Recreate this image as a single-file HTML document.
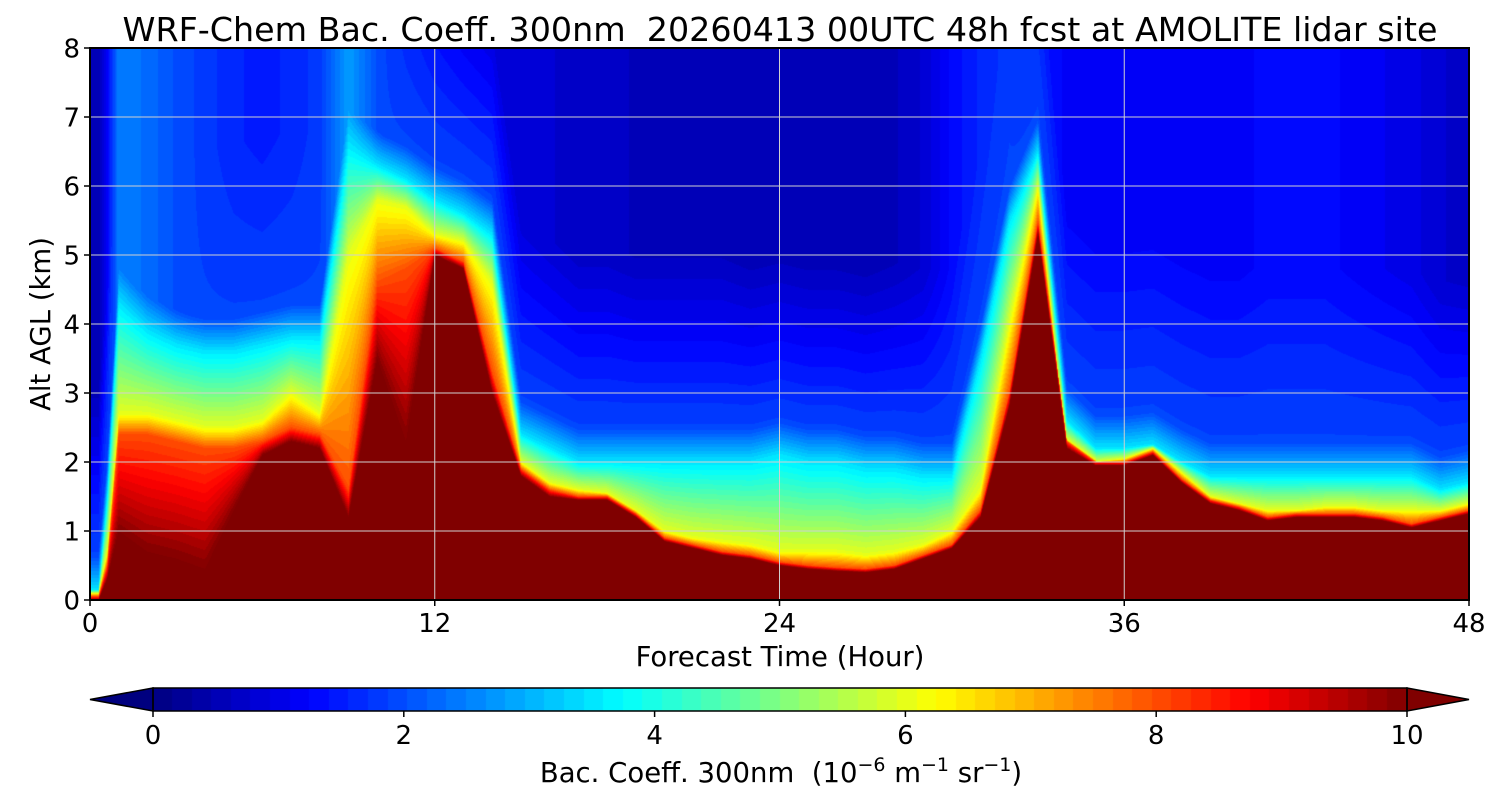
<!DOCTYPE html>
<html><head><meta charset="utf-8">
<style>
html,body{margin:0;padding:0;background:#fff;}
#wrap{position:relative;width:1500px;height:800px;overflow:hidden;font-family:"DejaVu Sans","Liberation Sans",sans-serif;}
canvas{position:absolute;}
svg{position:absolute;left:0;top:0;}
text{white-space:pre;}
</style></head>
<body>
<div id="wrap">
<canvas id="field" width="1379" height="552" style="left:90px;top:48px"></canvas>
<canvas id="cbar" width="1254" height="23" style="left:153px;top:688px"></canvas>
<svg id="ov" width="1500" height="800">
<text x="780" y="41" font-size="33.3" text-anchor="middle" xml:space="preserve">WRF-Chem Bac. Coeff. 300nm  20260413 00UTC 48h fcst at AMOLITE lidar site</text>
<text x="780" y="666" font-size="27.5" text-anchor="middle">Forecast Time (Hour)</text>
<text transform="translate(50,324) rotate(-90)" font-size="27.5" text-anchor="middle">Alt AGL (km)</text>
<text x="781" y="782" font-size="27.5" text-anchor="middle" xml:space="preserve">Bac. Coeff. 300nm  (10<tspan dy="-11" font-size="19">−6</tspan><tspan dy="11"> m</tspan><tspan dy="-11" font-size="19">−1</tspan><tspan dy="11"> sr</tspan><tspan dy="-11" font-size="19">−1</tspan><tspan dy="11">)</tspan></text>
<g id="grid"></g><g id="ticks"></g>
<rect x="90" y="48" width="1379" height="552" fill="none" stroke="#000" stroke-width="2"/>
<polygon points="153,688 90,699.5 153,711" fill="#00007f" stroke="#000" stroke-width="1.5"/>
<polygon points="1407,688 1469,699.5 1407,711" fill="#800000" stroke="#000" stroke-width="1.5"/>
<rect x="153" y="688" width="1254" height="23" fill="none" stroke="#000" stroke-width="1.5"/>
</svg>
</div>
<script>
const hours=[0,0.3,0.6,1,2,3,4,5,6,7,8,9,10,11,12,13,14,15,16,17,18,19,20,21,22,23,24,25,26,27,28,29,30,31,32,33,34,35,36,37,38,39,40,41,42,43,44,45,46,47,48];
const topKm=[0,0,0.3,1.0,0.7,0.6,0.45,1.3,2.1,2.3,2.2,1.2,3.5,2.3,5.0,4.8,3.0,1.8,1.5,1.45,1.45,1.2,0.85,0.75,0.65,0.6,0.5,0.45,0.42,0.4,0.45,0.6,0.75,1.2,2.8,5.3,2.2,1.95,1.95,2.1,1.7,1.4,1.3,1.15,1.2,1.2,1.2,1.15,1.05,1.15,1.25];
const orangeKm=[0.05,0.05,0.5,2.4,2.4,2.3,2.2,2.2,2.3,2.5,2.4,1.6,4.6,4.8,5.1,4.9,3.3,1.9,1.6,1.5,1.5,1.25,0.9,0.8,0.7,0.65,0.55,0.5,0.47,0.45,0.5,0.65,0.8,1.3,3.0,5.5,2.3,2.0,2.0,2.15,1.75,1.45,1.35,1.2,1.25,1.25,1.25,1.2,1.1,1.2,1.3];
const yellowKm=[0.1,0.1,0.7,2.7,2.7,2.6,2.5,2.5,2.6,3.0,2.7,5.0,5.8,5.7,5.3,5.2,4.6,2.0,1.7,1.6,1.55,1.3,1.0,0.9,0.85,0.8,0.7,0.7,0.7,0.65,0.7,0.8,1.0,1.6,4.0,6.0,2.1,2.0,2.05,2.2,1.85,1.5,1.4,1.3,1.3,1.35,1.35,1.3,1.3,1.3,1.4];
const cyanKm=[0.15,0.15,1.5,4.3,3.9,3.7,3.6,3.6,3.7,3.8,3.8,6.6,6.3,6.1,5.8,5.6,5.3,2.4,2.2,2.0,2.0,2.0,2.0,2.0,2.0,2.0,2.1,2.0,2.0,1.9,1.9,1.8,1.8,3.5,5.5,6.5,2.6,2.2,2.2,2.25,2.0,1.8,1.8,1.8,1.8,1.8,1.8,1.8,1.8,1.6,1.7];
const upperVal=[0.5,0.5,1.2,2.5,2.3,2.0,1.8,1.6,1.5,1.6,1.8,2.8,2.0,1.5,1.2,1.0,0.9,0.9,0.8,0.7,0.7,0.6,0.6,0.6,0.6,0.5,0.5,0.5,0.5,0.5,0.6,0.8,1.3,1.6,1.8,1.5,1.2,1.2,1.2,1.2,1.2,1.2,1.2,1.3,1.3,1.3,1.2,1.1,1.0,0.8,0.7];
const xTicks=[0,12,24,36,48];
const yTicks=[0,1,2,3,4,5,6,7,8];
const cbTicks=[0,2,4,6,8,10];

const X0=90,X1=1469,Y0=600,Y1=48;
const xs=t=>X0+(t/48)*(X1-X0);
const ys=z=>Y0-(z/8)*(Y0-Y1);
function jet(x){const c=v=>Math.max(0,Math.min(1,v));return [c(1.5-Math.abs(4*x-3)),c(1.5-Math.abs(4*x-2)),c(1.5-Math.abs(4*x-1))].map(v=>Math.round(v*255));}
function lerpArr(a,t){let i=0;while(i<hours.length-2&&hours[i+1]<t)i++;const f=Math.max(0,Math.min(1,(t-hours[i])/(hours[i+1]-hours[i])));return a[i]*(1-f)+a[i+1]*f;}
function field(t,z){
  const tp=lerpArr(topKm,t);let or=lerpArr(orangeKm,t);let md=lerpArr(yellowKm,t);let cy=lerpArr(cyanKm,t);const up=lerpArr(upperVal,t);
  if(or<=tp)or=tp+0.03; if(md<=or)md=or+0.03; if(cy<=md)cy=md+0.05;
  if(z<=tp)return 10;
  if(z<=or)return 10-2*(z-tp)/(or-tp);
  if(z<=md)return 8-2*(z-or)/(md-or);
  if(z<=cy)return 6-2.5*(z-md)/(cy-md);
  const mid=Math.max(1.9,up);
  if(z<=cy+0.5)return 3.5+(mid-3.5)*(z-cy)/0.5;
  if(z<=cy+3)return mid+(up-mid)*(z-cy-0.5)/2.5;
  return up;
}
const STEP=10/64;
function levelColor(v){if(v>=10)return [128,0,0];let l=Math.floor(v/STEP)*STEP;const x=Math.min(1,(l+STEP/2)/10);return jet(x);}
const fc=document.getElementById('field').getContext('2d');
const W=1379,H=552;const img=fc.createImageData(W,H);
for(let px=0;px<W;px++){const t=(px+0.5)/W*48;
  for(let py=0;py<H;py++){const z=(H-py-0.5)/H*8;const c=levelColor(field(t,z));const k=(py*W+px)*4;
    img.data[k]=c[0];img.data[k+1]=c[1];img.data[k+2]=c[2];img.data[k+3]=255;}}
fc.putImageData(img,0,0);
const cc=document.getElementById('cbar').getContext('2d');
for(let i=0;i<64;i++){const c=levelColor(i*STEP+1e-6);cc.fillStyle=`rgb(${c})`;cc.fillRect(Math.floor(i*1254/64),0,Math.ceil(1254/64)+1,23);}
const NS='http://www.w3.org/2000/svg';
const grid=document.getElementById('grid'),tk=document.getElementById('ticks');
function mk(tag,attrs,parent){const e=document.createElementNS(NS,tag);for(const k in attrs)e.setAttribute(k,attrs[k]);parent.appendChild(e);return e;}
xTicks.forEach(t=>{
  const g=mk('line',{x1:xs(t),x2:xs(t),y1:Y1,y2:Y0,stroke:'#d0d0d0','stroke-width':1},grid);
  
  
  const l=mk('line',{x1:xs(t),x2:xs(t),y1:Y0,y2:Y0+6,stroke:'#000','stroke-width':1.5},tk);
  
  
  const tx=mk('text',{x:xs(t),y:Y0+32,'font-size':26,'text-anchor':'middle'},tk);tx.textContent=t;
  
  
});
yTicks.forEach(z=>{
  const g=mk('line',{x1:X0,x2:X1,y1:ys(z),y2:ys(z),stroke:'#d0d0d0','stroke-width':1},grid);
  
  
  const l=mk('line',{x1:X0-6,x2:X0,y1:ys(z),y2:ys(z),stroke:'#000','stroke-width':1.5},tk);
  
  
  const tx=mk('text',{x:X0-10,y:ys(z)+9.5,'font-size':26,'text-anchor':'end'},tk);tx.textContent=z;
  
  
});
cbTicks.forEach(v=>{const x=153+v/10*1254;
  const l=mk('line',{x1:x,x2:x,y1:711,y2:717,stroke:'#000','stroke-width':1.5},tk);
  
  
  const tx=mk('text',{x:x,y:744,'font-size':26,'text-anchor':'middle'},tk);tx.textContent=v;
  
  
});
</script>
</body></html>
